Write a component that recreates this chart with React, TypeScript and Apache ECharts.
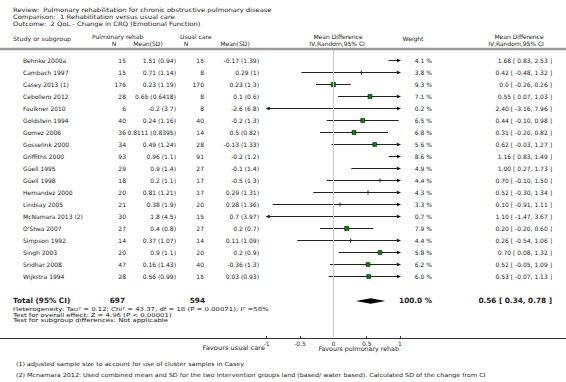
import React, { useEffect, useRef } from 'react';
import * as echarts from 'echarts';

const studies = [
  'Behnke 2000a', 'Cambach 1997', 'Casey 2013 (1)', 'Cebollero 2012', 'Faulkner 2010',
  'Goldstein 1994', 'Gomez 2006', 'Gosselink 2000', 'Griffiths 2000', 'Güell 1995',
  'Güell 1998', 'Hernandez 2000', 'Lindsay 2005', 'McNamara 2013 (2)', "O'Shea 2007",
  'Simpson 1992', 'Singh 2003', 'Sridhar 2008', 'Wijkstra 1994',
];
const rehabN = [15, 15, 176, 28, 6, 40, 36, 34, 93, 29, 18, 20, 21, 30, 27, 14, 20, 47, 28];
const rehabMean = [1.51, 0.71, 0.23, 0.65, -0.2, 0.24, 0.8111, 0.49, 0.96, 0.9, 0.2, 0.81, 0.38, 1.8, 0.4, 0.37, 0.9, 0.16, 0.56];
const rehabSD = [0.94, 1.14, 1.19, 0.6418, 3.7, 1.16, 0.8395, 1.24, 1.1, 1.4, 1.1, 1.21, 1.9, 4.5, 0.8, 1.07, 1.1, 1.43, 0.99];
const usualN = [15, 8, 170, 8, 8, 40, 14, 28, 91, 27, 17, 17, 20, 15, 27, 14, 20, 40, 15];
const usualMean = [-0.17, 0.29, 0.23, 0.1, -2.6, -0.2, 0.5, -0.13, -0.2, -0.1, -0.5, 0.29, 0.28, 0.7, 0.2, 0.11, 0.2, -0.36, 0.03];
const usualSD = [1.39, 1, 1.3, 0.6, 6.8, 1.3, 0.82, 1.33, 1.2, 1.4, 1.3, 1.31, 1.36, 3.97, 0.7, 1.09, 0.9, 1.3, 0.93];
const weights = [4.1, 3.8, 9.3, 7.1, 0.2, 6.5, 6.8, 5.6, 8.6, 4.9, 4.4, 4.3, 3.3, 0.7, 7.9, 4.4, 5.8, 6.2, 6.0];
const md = [1.68, 0.42, 0.0, 0.55, 2.40, 0.44, 0.31, 0.62, 1.16, 1.00, 0.70, 0.52, 0.10, 1.10, 0.20, 0.26, 0.70, 0.52, 0.53];
const ciLo = [0.83, -0.48, -0.26, 0.07, -3.16, -0.10, -0.20, -0.03, 0.83, 0.27, -0.10, -0.30, -0.91, -1.47, -0.20, -0.54, 0.08, -0.05, -0.07];
const ciHi = [2.53, 1.32, 0.26, 1.03, 7.96, 0.98, 0.82, 1.27, 1.49, 1.73, 1.50, 1.34, 1.11, 3.67, 0.60, 1.06, 1.32, 1.09, 1.13];

const totalRehabN = 697;
const totalUsualN = 594;
const totalWeight = 100.0;
const totalMD = 0.56;
const totalLo = 0.34;
const totalHi = 0.78;
const TOTAL_ROW = 20.08;

const axisTicks = [-1, -0.5, 0, 0.5, 1];
const VIS_MIN = -1;
const VIS_MAX = 1;

const titleLines = [
  'Review:  Pulmonary rehabilitation for chronic obstructive pulmonary disease',
  'Comparison:  1 Rehabilitation versus usual care',
  'Outcome:  2 QoL - Change in CRQ (Emotional Function)',
];
const statLines = [
  'Heterogeneity: Tau\u00b2 = 0.12; Chi\u00b2 = 43.37, df = 18 (P = 0.00071); I\u00b2 =58%',
  'Test for overall effect: Z = 4.96 (P < 0.00001)',
  'Test for subgroup differences: Not applicable',
];
const footnotes = [
  '(1) adjusted sample size to account for use of cluster samples in Casey',
  '(2) Mcnamara 2012: Used combined mean and SD for the two Intervention groups land (based/ water based). Calculated SD of the change from CI',
];

const FONT = '"DejaVu Sans", Verdana, sans-serif';
const TXT = '#222';

const fmt = (v: number) => (v === 0 ? '0.0' : v.toFixed(2));
const ciText = (m: number, l: number, h: number) => `${fmt(m)} [ ${fmt(l)}, ${fmt(h)} ]`;

function txt(text: string, x: number, y: number, o: any = {}) {
  return {
    type: 'text',
    x,
    y,
    scaleX: o.sx || 1,
    scaleY: 1,
    silent: true,
    style: {
      text,
      fill: o.fill || TXT,
      fontSize: o.size || 6,
      fontFamily: FONT,
      fontWeight: o.bold ? 'bold' : 'normal',
      align: o.align || 'left',
      textAlign: o.align || 'left',
      verticalAlign: 'middle',
      textVerticalAlign: 'middle',
    },
  };
}

export default function App() {
  const ref = useRef<HTMLDivElement>(null);
  useEffect(() => {
    const chart = echarts.init(ref.current!, null, { renderer: 'svg' });

    const studyData = studies.map((_, i) => [i, md[i], ciLo[i], ciHi[i], weights[i]]);

    const graphics: any[] = [];
    titleLines.forEach((t, i) => graphics.push(txt(t, 13, 10.5 + i * 6.7, { sx: 1.13 })));
    graphics.push(txt('Study or subgroup', 13, 38.5, { sx: 1.05 }));
    graphics.push(txt('Pulmonary rehab', 92, 36.5));
    graphics.push(txt('N', 114, 43.5, { align: 'center' }));
    graphics.push(txt('Mean(SD)', 148, 43.5, { align: 'center' }));
    graphics.push(txt('Usual care', 180, 36.5));
    graphics.push(txt('N', 186, 43.5, { align: 'center' }));
    graphics.push(txt('Mean(SD)', 235, 43.5, { align: 'center' }));
    graphics.push(txt('Mean Difference', 338, 36.5, { align: 'center' }));
    graphics.push(txt('IV,Random,95% CI', 337, 43.5, { align: 'center' }));
    graphics.push(txt('Weight', 413, 38.3, { align: 'center' }));
    graphics.push(txt('Mean Difference', 519, 36.5, { align: 'center' }));
    graphics.push(txt('IV,Random,95% CI', 516, 43.5, { align: 'center' }));
    graphics.push({
      type: 'rect',
      shape: { x: 0, y: 47.8, width: 566, height: 2.4 },
      style: { fill: '#9a9a9a' },
      silent: true,
    });
    statLines.forEach((t, i) => graphics.push(txt(t, 13, 309 + i * 5.6, { size: 5.5, sx: 1.26 })));
    graphics.push(txt('Favours usual care', 265, 348, { align: 'right', size: 6.2, sx: 1.08 }));
    graphics.push(txt('Favours pulmonary rehab', 399, 348.5, { align: 'right', size: 6.2, sx: 1.02 }));
    footnotes.forEach((t, i) => graphics.push(txt(t, 16, 363.3 + i * 11, { size: 5.6, sx: 1.14 })));

    chart.setOption({
      animation: false,
      backgroundColor: '#fff',
      grid: { left: 0, right: 0, top: 50, bottom: 44, containLabel: false },
      xAxis: {
        type: 'value',
        min: -5,
        max: 3.49,
        position: 'bottom',
        splitLine: { show: false },
        axisLine: { show: true, onZero: false, lineStyle: { color: '#333', width: 1 } },
        axisTick: { show: true, inside: true, length: 2, customValues: axisTicks, lineStyle: { color: '#333' } },
        axisLabel: {
          show: true,
          customValues: axisTicks,
          fontSize: 6,
          fontFamily: FONT,
          color: '#333',
          margin: 2,
          formatter: (v: number) => String(v),
        },
      },
      yAxis: {
        type: 'value',
        inverse: true,
        min: -10 / 12,
        max: 278 / 12,
        show: false,
      },
      graphic: graphics,
      series: [
        {
          type: 'line',
          data: [],
          markLine: {
            silent: true,
            symbol: 'none',
            label: { show: false },
            lineStyle: { color: '#c8c8c8', width: 1, type: 'solid' },
            data: [{ xAxis: 0 }],
          },
        },
        {
          type: 'custom',
          data: studyData,
          encode: { x: [1, 2, 3], y: 0 },
          clip: false,
          renderItem: (params: any, api: any) => {
            const k = params.dataIndex;
            const i = api.value(0);
            const m = api.value(1);
            const lo = api.value(2);
            const hi = api.value(3);
            const w = api.value(4);
            const y = api.coord([0, i])[1];
            const yl = Math.round(y) + 0.5;
            const xl = api.coord([Math.max(lo, VIS_MIN), i])[0];
            const xr = api.coord([Math.min(hi, VIS_MAX), i])[0];
            const ch: any[] = [];
            ch.push({ type: 'line', shape: { x1: xl, y1: yl, x2: xr, y2: yl }, style: { stroke: '#222', lineWidth: 1 } });
            if (hi > VIS_MAX) {
              ch.push({ type: 'polygon', shape: { points: [[xr + 1, yl], [xr - 3, yl - 1.8], [xr - 3, yl + 1.8]] }, style: { fill: '#111' } });
            }
            if (lo < VIS_MIN) {
              ch.push({ type: 'polygon', shape: { points: [[xl - 1, yl], [xl + 3, yl - 1.8], [xl + 3, yl + 1.8]] }, style: { fill: '#111' } });
            }
            if (m > VIS_MIN && m < VIS_MAX) {
              const xm = api.coord([m, i])[0];
              if (w >= 5) {
                const s = 3 + w * 0.12;
                ch.push({ type: 'rect', shape: { x: xm - s / 2, y: yl - s / 2, width: s, height: s }, style: { fill: '#0a8a0a', stroke: '#003a00', lineWidth: 0.8 } });
              } else {
                ch.push({ type: 'line', shape: { x1: xm, y1: yl - 2, x2: xm, y2: yl + 2 }, style: { stroke: '#222', lineWidth: 1 } });
              }
            }
            ch.push(txt(studies[k], 23, y));
            ch.push(txt(String(rehabN[k]), 126, y, { align: 'right' }));
            ch.push(txt(`${rehabMean[k]} (${rehabSD[k]})`, 176, y, { align: 'right' }));
            ch.push(txt(String(usualN[k]), 204, y, { align: 'right' }));
            ch.push(txt(`${usualMean[k]} (${usualSD[k]})`, 259, y, { align: 'right' }));
            ch.push(txt(`${w.toFixed(1)} %`, 432, y, { align: 'right' }));
            ch.push(txt(ciText(m, lo, hi), 552, y, { align: 'right' }));
            return { type: 'group', children: ch };
          },
        },
        {
          type: 'custom',
          data: [[TOTAL_ROW, totalMD, totalLo, totalHi, totalWeight]],
          encode: { x: [1, 2, 3], y: 0 },
          clip: false,
          renderItem: (params: any, api: any) => {
            const r = api.value(0);
            const m = api.value(1);
            const lo = api.value(2);
            const hi = api.value(3);
            const w = api.value(4);
            const [xm, y] = api.coord([m, r]);
            const xl = api.coord([lo, r])[0];
            const xr = api.coord([hi, r])[0];
            const h = 2.8;
            return {
              type: 'group',
              children: [
                { type: 'polygon', shape: { points: [[xl, y], [xm, y - h], [xr, y], [xm, y + h]] }, style: { fill: '#000' } },
                txt('Total (95% CI)', 13, y, { bold: true, size: 7.3 }),
                txt(String(totalRehabN), 125, y, { bold: true, size: 7.3, align: 'right' }),
                txt(String(totalUsualN), 205, y, { bold: true, size: 7.3, align: 'right' }),
                txt(`${w.toFixed(1)} %`, 432, y, { bold: true, size: 7.3, align: 'right' }),
                txt(ciText(m, lo, hi), 552, y, { bold: true, size: 7.3, align: 'right' }),
              ],
            };
          },
        },
      ],
    });

    return () => chart.dispose();
  }, []);
  return (
    <div
      ref={ref}
      style={{ position: 'absolute', left: 0, top: 0, width: 566, height: 382, background: '#fff' }}
    />
  );
}
